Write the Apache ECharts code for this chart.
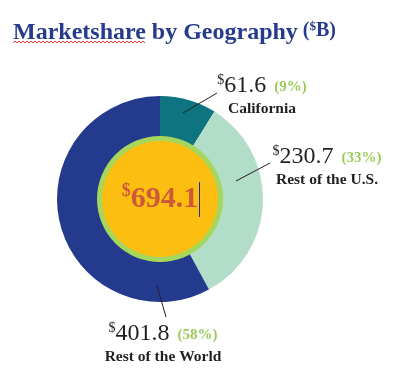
<!DOCTYPE html>
<html><head><meta charset="utf-8">
<script src="https://cdn.jsdelivr.net/npm/echarts@6/dist/echarts.min.js"></script>
<style>html,body{margin:0;padding:0;background:#fff}#c{width:406px;height:374px}</style>
</head><body><div id="c"></div>
<script>
const regions = ['California', 'Rest of the U.S.', 'Rest of the World'];
const values = [61.6, 230.7, 401.8];
const colors = ['#0E7480', '#B2DDC9', '#233A8D'];
const titleText = 'Marketshare by Geography';
const unitText = '$B';

const total = values.reduce((a, b) => a + b, 0);
const C = [160, 199];
// label placement (center x, top y) and leader start/end
const labelBox = [[262, 73], [327, 144], [163, 321]];
const leader = [[[183, 113], [217, 93]], [[236, 181], [270, 163]], [[157, 286], [166, 317]]];

const squiggle = [];
for (let x = 13, i = 0; x <= 146; x += 2, i++) squiggle.push([x, i % 2 ? 41 : 43]);

const chart = echarts.init(document.getElementById('c'), null, {renderer: 'canvas'});
const serif = '"Liberation Serif", "DejaVu Serif", serif';
const graphics = [
  {type: 'polyline', shape: {points: squiggle}, style: {stroke: '#E8383D', lineWidth: 1, fill: null}, silent: true},
  {type: 'line', shape: {x1: 199.5, y1: 182, x2: 199.5, y2: 217}, style: {stroke: '#1F2F9E', lineWidth: 1}, z: 100, silent: true}
];
leader.forEach(l => graphics.push({type: 'line', shape: {x1: l[0][0], y1: l[0][1], x2: l[1][0], y2: l[1][1]}, style: {stroke: '#231F20', lineWidth: 1}, z: 100, silent: true}));

chart.setOption({
  animation: false,
  title: {
    left: 8, top: 15,
    text: '{a|' + titleText + '} {b|(}{c|$}{b|' + unitText.slice(1) + ')}',
    textStyle: {
      rich: {
        a: {fontFamily: serif, fontWeight: 'bold', fontSize: 24, color: '#263B8C', lineHeight: 26},
        b: {fontFamily: serif, fontWeight: 'bold', fontSize: 20, color: '#263B8C', lineHeight: 26, padding: [0, 0, 4, 0]},
        c: {fontFamily: serif, fontWeight: 'bold', fontSize: 13, color: '#263B8C', verticalAlign: 'top', lineHeight: 26}
      }
    }
  },
  graphic: graphics,
  series: [
    {
      type: 'pie', center: C, radius: [0, 103], startAngle: 90, clockwise: true,
      silent: true, avoidLabelOverlap: false,
      data: values.map((v, i) => ({value: v, name: regions[i], itemStyle: {color: colors[i]}})),
      label: {
        show: true,
        formatter: p => '{s|$}{v|' + p.value.toFixed(1) + '}{p|(' + Math.round(p.value / total * 100) + '%)}\n{n|' + p.name + '}',
        align: 'center',
        rich: {
          s: {fontFamily: serif, fontSize: 14, color: '#231F20', verticalAlign: 'top', lineHeight: 26},
          v: {fontFamily: serif, fontSize: 24, color: '#231F20', lineHeight: 26},
          p: {fontFamily: serif, fontSize: 15, fontWeight: 'bold', color: '#9BCB5B', lineHeight: 26, padding: [2, 0, 0, 8]},
          n: {fontFamily: serif, fontSize: 15.5, fontWeight: 'bold', color: '#231F20', lineHeight: 20, align: 'center'}
        }
      },
      labelLine: {show: false},
      labelLayout: function (params) {
        const i = params.dataIndex;
        return {x: labelBox[i][0], y: labelBox[i][1], align: 'center', verticalAlign: 'top'};
      }
    },
    {
      type: 'pie', center: C, radius: [0, 63], silent: true,
      data: [{value: total, itemStyle: {color: '#A7D65C'}}],
      label: {show: false}, labelLine: {show: false}
    },
    {
      type: 'pie', center: C, radius: [0, 58], silent: true,
      data: [{value: total, itemStyle: {color: '#FDBE12'}}],
      label: {
        show: true, position: 'center',
        formatter: '{s|$}{v|' + total.toFixed(1) + '}',
        rich: {
          s: {fontFamily: serif, fontSize: 18, fontWeight: 'bold', color: '#CF5A3A', verticalAlign: 'top', lineHeight: 34},
          v: {fontFamily: serif, fontSize: 30, fontWeight: 'bold', color: '#CF5A3A', lineHeight: 34}
        }
      },
      labelLine: {show: false}
    }
  ]
});
</script></body></html>
